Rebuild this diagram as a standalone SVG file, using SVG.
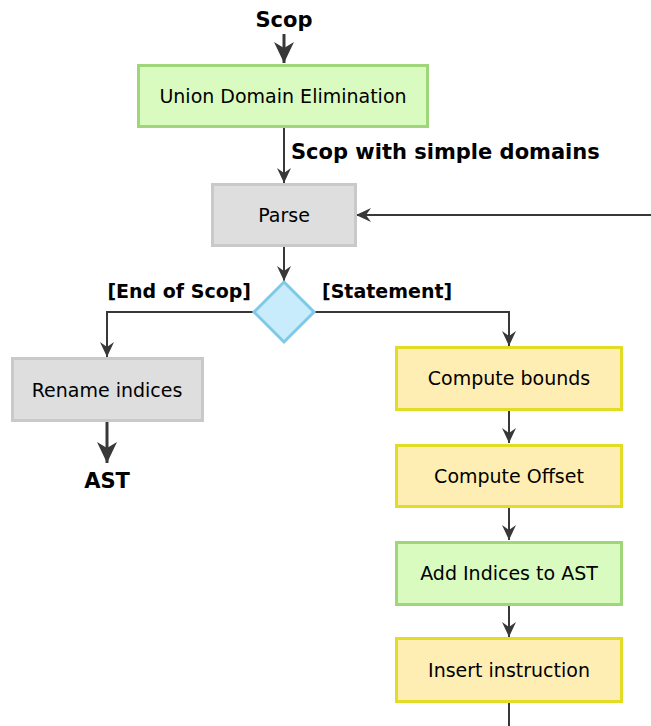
<svg xmlns="http://www.w3.org/2000/svg" width="651" height="726" viewBox="0 0 651 726">
<style>
.n{font-family:"DejaVu Sans",sans-serif;font-size:19px;fill:#000;text-anchor:middle}
.b{font-family:"DejaVu Sans",sans-serif;font-size:21px;font-weight:bold;fill:#000}
.s{font-family:"DejaVu Sans",sans-serif;font-size:19px;font-weight:bold;fill:#000}
.g{fill:#d9fbc0;stroke:#a0d67a;stroke-width:3}
.y{fill:#ffeeb3;stroke:#e2dc25;stroke-width:3}
.r{fill:#dedede;stroke:#cbc8c8;stroke-width:3}
.c{fill:none;stroke:#383838;stroke-width:2}
.c3{fill:none;stroke:#383838;stroke-width:3}
</style>
<defs>
<marker id="a" viewBox="0 0 15 14" refX="15" refY="7" markerWidth="15" markerHeight="14" markerUnits="userSpaceOnUse" orient="auto">
<path d="M0,0 L15,7 L0,14 L5,7 z" fill="#383838"/>
</marker>
<marker id="A" viewBox="0 0 21 20" refX="21" refY="10" markerWidth="21" markerHeight="20" markerUnits="userSpaceOnUse" orient="auto">
<path d="M0,0 L21,10 L0,20 L6,10 z" fill="#383838"/>
</marker>
</defs>
<g id="connectors">
<path class="c3" d="M284,34 V63" marker-end="url(#A)"/>
<path class="c" d="M284,127 V183" marker-end="url(#a)"/>
<path class="c" d="M651,215 H356" marker-end="url(#a)"/>
<path class="c" d="M284,246 V281" marker-end="url(#a)"/>
<path class="c" d="M254,312 H107 V357" marker-end="url(#a)"/>
<path class="c" d="M314,312 H509 V346" marker-end="url(#a)"/>
<path class="c3" d="M107,421 V463" marker-end="url(#A)"/>
<path class="c" d="M509,409 V443" marker-end="url(#a)"/>
<path class="c" d="M509,507 V540" marker-end="url(#a)"/>
<path class="c" d="M509,604 V637" marker-end="url(#a)"/>
<path class="c" d="M509,701 V726"/>
<text class="b" x="284" y="27" text-anchor="middle">Scop</text>
<text class="b" x="291" y="159">Scop with simple domains</text>
<text class="s" x="251" y="298" text-anchor="end">[End of Scop]</text>
<text class="s" x="322" y="298">[Statement]</text>
<text class="b" x="107" y="488" text-anchor="middle">AST</text>
</g>
<g id="union"><rect class="g" x="138.5" y="65.5" width="289" height="61"/><text class="n" x="283" y="103">Union Domain Elimination</text></g>
<g id="parse"><rect class="r" x="212.5" y="184.5" width="143" height="61"/><text class="n" x="284" y="222">Parse</text></g>
<g id="decision"><path d="M284,282 L314,312 L284,342 L254,312 Z" fill="#c9ecfc" stroke="#7ec8e8" stroke-width="3"/></g>
<g id="rename"><rect class="r" x="12.5" y="358.5" width="190" height="62"/><text class="n" x="107" y="397">Rename indices</text></g>
<g id="bounds"><rect class="y" x="396.5" y="347.5" width="225" height="62"/><text class="n" x="509" y="385">Compute bounds</text></g>
<g id="offset"><rect class="y" x="396.5" y="445.5" width="225" height="61"/><text class="n" x="509" y="483">Compute Offset</text></g>
<g id="addidx"><rect class="g" x="396.5" y="542.5" width="225" height="62"/><text class="n" x="509" y="580">Add Indices to AST</text></g>
<g id="insert"><rect class="y" x="396.5" y="638.5" width="225" height="63"/><text class="n" x="509" y="677">Insert instruction</text></g>
</svg>
